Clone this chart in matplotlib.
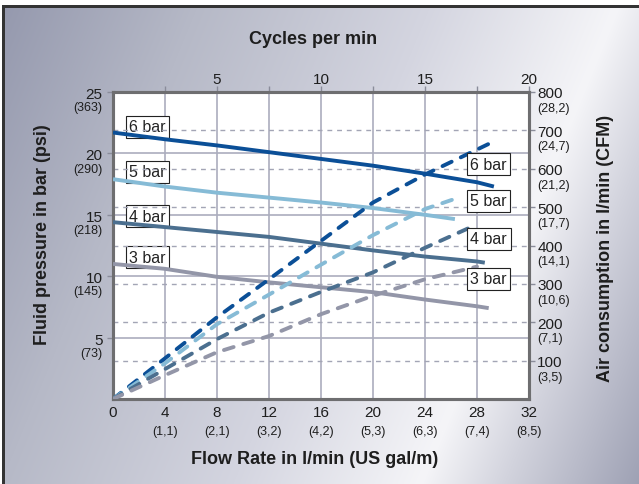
import numpy as np
import matplotlib
matplotlib.use("Agg")
import matplotlib.pyplot as plt

plt.rcParams['font.family'] = ['Liberation Sans', 'DejaVu Sans']

# === DATA ===
flow_ticks = [0, 4, 8, 12, 16, 20, 24, 28, 32]
gal_labels = ['', '(1,1)', '(2,1)', '(3,2)', '(4,2)', '(5,3)', '(6,3)', '(7,4)', '(8,5)']
bar_ticks = [5, 10, 15, 20, 25]
psi_labels = ['(73)', '(145)', '(218)', '(290)', '(363)']
air_ticks = [100, 200, 300, 400, 500, 600, 700, 800]
cfm_labels = ['(3,5)', '(7,1)', '(10,6)', '(14,1)', '(17,7)', '(21,2)', '(24,7)', '(28,2)']
cycle_ticks = [5, 10, 15, 20]

series_names = ['6 bar', '5 bar', '4 bar', '3 bar']
series_colors = ['#0b4f97', '#86bbd6', '#4b6f8f', '#9396a8']

# fluid pressure (bar) vs flow rate (l/min) - solid lines
p_flow = [
    [0, 4, 8, 12, 16, 20, 24, 28, 29.3],
    [0, 4, 8, 12, 16, 20, 24, 26.3],
    [0, 4, 8, 12, 16, 20, 24, 28, 28.6],
    [0, 4, 8, 12, 16, 20, 24, 28, 28.9],
]
p_bar = [
    [21.7, 21.15, 20.65, 20.1, 19.55, 19.0, 18.35, 17.65, 17.3],
    [17.9, 17.3, 16.8, 16.4, 16.0, 15.55, 15.0, 14.65],
    [14.4, 14.0, 13.6, 13.2, 12.65, 12.1, 11.6, 11.2, 11.1],
    [11.0, 10.6, 9.95, 9.5, 9.1, 8.7, 8.1, 7.55, 7.4],
]

# air consumption (l/min) vs flow rate (l/min) - dashed lines
a_flow = [
    [0, 4, 8, 12, 16, 20, 24, 28, 29.1],
    [0, 4, 8, 12, 16, 20, 24, 26.6],
    [0, 4, 8, 12, 16, 20, 24, 27.8],
    [0, 4, 8, 12, 16, 20, 24, 28],
]
a_lmin = [
    [0, 106, 213, 312, 412, 512, 585, 650, 668],
    [0, 93, 195, 272, 350, 427, 495, 525],
    [0, 78, 156, 225, 279, 330, 394, 452],
    [0, 62, 122, 164, 221, 269, 312, 345],
]

# label positions
left_label_flow = 2.65
left_label_bar = [22.15, 18.5, 14.9, 11.55]
right_label_flow = 28.9
right_label_air = [612, 517, 418, 313]

W, H = 639, 485
fig = plt.figure(figsize=(W / 100, H / 100), dpi=100)

# --- background gradient + frame ---
yy, xx = np.mgrid[0:H, 0:W]
s = xx * 0.924 + yy * 0.381
stops = [0, 185, 400, 573, 650, 775]
reds = [148, 182, 212, 245, 210, 158]
greens = [152, 185, 213, 245, 211, 161]
blues = [173, 199, 224, 248, 221, 180]
img = np.dstack([np.interp(s, stops, reds), np.interp(s, stops, greens),
                 np.interp(s, stops, blues)]) / 255.0
img[:6, :, :] = 1.0
img[:, :2, :] = 1.0
img[6:9, 2:, :] = 0.2
img[6:, 2:5, :] = 0.2
ax_bg = fig.add_axes([0, 0, 1, 1], zorder=-10)
ax_bg.imshow(img, aspect='auto', interpolation='bilinear')
ax_bg.axis('off')

# --- main axes ---
ax = fig.add_axes([113 / W, 85 / H, 416 / W, 307 / H])
ax.set_xlim(0, 32)
ax.set_ylim(0, 25)
ax.set_facecolor('white')

grid_col = '#abadbe'
for f in flow_ticks[1:-1]:
    ax.axvline(f, color=grid_col, lw=1.2, zorder=1)
for b in bar_ticks[:-1]:
    ax.axhline(b, color=grid_col, lw=1.2, zorder=1)

ax2 = ax.twinx()
ax2.set_ylim(0, 800)
for a in air_ticks[:-1]:
    ax2.axhline(a, color='#a3a5b5', lw=1.0, ls=(0, (3.5, 3.5)), zorder=1)

for fl, pb, c in zip(p_flow, p_bar, series_colors):
    ax2.plot(fl, np.array(pb) * 32, color=c, lw=2.8, solid_capstyle='butt', zorder=3)
for fl, al, c in zip(a_flow, a_lmin, series_colors):
    ax2.plot(fl, al, color=c, lw=2.8, dashes=(2.6, 2.6), dash_capstyle='round', zorder=4)

box = dict(boxstyle='square,pad=0.22', facecolor='white', edgecolor='#222222', lw=0.8)
for name, b in zip(series_names, left_label_bar):
    ax.text(left_label_flow, b, name, ha='center', va='center', fontsize=11.5,
            color='#222222', bbox=box, zorder=10)
for name, a in zip(series_names, right_label_air):
    ax2.text(right_label_flow, a, name, ha='center', va='center', fontsize=11.5,
             color='#222222', bbox=box, zorder=10)

# spines / ticks
for a_ in (ax, ax2):
    for sp in a_.spines.values():
        sp.set_color('#6e6e70')
        sp.set_linewidth(2.2)
ax.set_xticks([])
ax.set_yticks(bar_ticks)
ax.set_yticklabels([])
ax.tick_params(axis='y', length=4, width=1, color='#8a8c9a')
ax2.set_yticks(air_ticks)
ax2.set_yticklabels([])
ax2.tick_params(axis='y', length=4, width=1, color='#8a8c9a')

top = ax.secondary_xaxis('top', functions=(lambda f: f * 20 / 32, lambda c: c * 32 / 20))
top.set_xticks(cycle_ticks)
top.set_xticks([2.5, 7.5, 12.5, 17.5], minor=True)
top.set_xticklabels([])
top.tick_params(which='both', length=4, width=1, color='#8a8c9a')
top.spines['top'].set_visible(False)

txt = '#1e1e1e'
for b, sub in zip(bar_ticks, psi_labels):
    ax.annotate(str(b), (0, b), xycoords=('axes fraction', 'data'), xytext=(-7.5, -1.5),
                textcoords='offset points', ha='right', va='center', fontsize=11, color=txt)
    ax.annotate(sub, (0, b), xycoords=('axes fraction', 'data'), xytext=(-7.5, -11),
                textcoords='offset points', ha='right', va='center', fontsize=9, color=txt)
for a, sub in zip(air_ticks, cfm_labels):
    ax2.annotate(str(a), (1, a), xycoords=('axes fraction', 'data'), xytext=(6, -1),
                 textcoords='offset points', ha='left', va='center', fontsize=11, color=txt)
    ax2.annotate(sub, (1, a), xycoords=('axes fraction', 'data'), xytext=(6, -11.5),
                 textcoords='offset points', ha='left', va='center', fontsize=9, color=txt)
for f, sub in zip(flow_ticks, gal_labels):
    ax.annotate(str(f), (f, 0), xycoords=('data', 'axes fraction'), xytext=(0, -9.5),
                textcoords='offset points', ha='center', va='center', fontsize=11, color=txt)
    if sub:
        ax.annotate(sub, (f, 0), xycoords=('data', 'axes fraction'), xytext=(0, -23),
                    textcoords='offset points', ha='center', va='center', fontsize=9, color=txt)
for c in cycle_ticks:
    ax.annotate(str(c), (c * 32 / 20, 1), xycoords=('data', 'axes fraction'), xytext=(0, 9.5),
                textcoords='offset points', ha='center', va='center', fontsize=11, color=txt)

fig.text(313 / W, 1 - 40 / H, 'Cycles per min', ha='center', va='center',
         fontsize=13, fontweight='bold', color=txt)
fig.text(315 / W, 1 - 460 / H, 'Flow Rate in l/min (US gal/m)', ha='center', va='center',
         fontsize=13, fontweight='bold', color=txt)
fig.text(43 / W, 1 - 235 / H, 'Fluid pressure in bar (psi)', ha='center', va='center',
         rotation=90, fontsize=13, fontweight='bold', color=txt)
fig.text(605 / W, 1 - 248 / H, 'Air consumption in l/min (CFM)', ha='center', va='center',
         rotation=90, fontsize=13, fontweight='bold', color=txt)

fig.savefig('out.png', dpi=100)
